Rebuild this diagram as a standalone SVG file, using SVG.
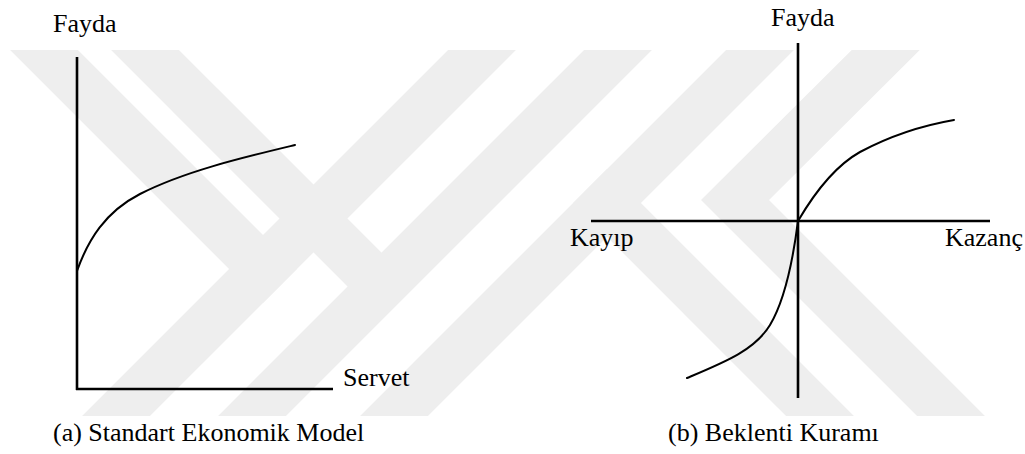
<svg xmlns="http://www.w3.org/2000/svg" width="1025" height="454" viewBox="0 0 1025 454">
<style>
.t{font-family:"Liberation Serif","Times New Roman",serif;font-size:26px;fill:#000}
.ax{stroke:#000;stroke-width:2.6;fill:none}
.cv{stroke:#000;stroke-width:2;fill:none;stroke-linecap:round}
.wm{stroke:#eeeeee;stroke-width:48;fill:none;stroke-linecap:square;stroke-linejoin:miter}
</style>
<defs>
<clipPath id="wmclip"><rect x="0" y="50" width="1025" height="366"/></clipPath>
</defs>
<rect width="1025" height="454" fill="#fff"/>
<g id="watermark" clip-path="url(#wmclip)">
<line class="wm" x1="532" y1="0" x2="72" y2="460"/>
<line class="wm" x1="-6" y1="0" x2="263" y2="269"/>
<line class="wm" x1="668" y1="0" x2="208" y2="460"/>
<line class="wm" x1="95" y1="0" x2="381" y2="286"/>
<line class="wm" x1="810" y1="0" x2="350" y2="460"/>
<polyline class="wm" points="936,0 735,200 995,460"/>
<line class="wm" x1="607" y1="203" x2="864" y2="460"/>
</g>
<g id="panel-a">
<g id="axes-a">
<line class="ax" x1="77" y1="57" x2="77" y2="390"/>
<line class="ax" x1="76" y1="389" x2="333" y2="389"/>
</g>
<path id="curve-a" class="cv" d="M77 271 C 88 240, 105 212, 140 194 C 185 171, 245 157, 295 145"/>
<text class="t" x="53" y="32">Fayda</text>
<text class="t" x="343" y="386">Servet</text>
<text class="t" x="53" y="441">(a) Standart Ekonomik Model</text>
</g>
<g id="panel-b">
<g id="axes-b">
<line class="ax" x1="798" y1="43" x2="798" y2="398"/>
<line class="ax" x1="591" y1="221" x2="990" y2="221"/>
</g>
<path id="curve-b" class="cv" d="M954 120 C 925 125, 890 136, 860 152 C 835 166, 815 192, 798 221 C 793 260, 785 300, 770 325 C 755 350, 725 362, 687 378"/>
<text class="t" x="771" y="26">Fayda</text>
<text class="t" x="570" y="246">Kayıp</text>
<text class="t" x="945" y="246">Kazanç</text>
<text class="t" x="668" y="441">(b) Beklenti Kuramı</text>
</g>
</svg>
